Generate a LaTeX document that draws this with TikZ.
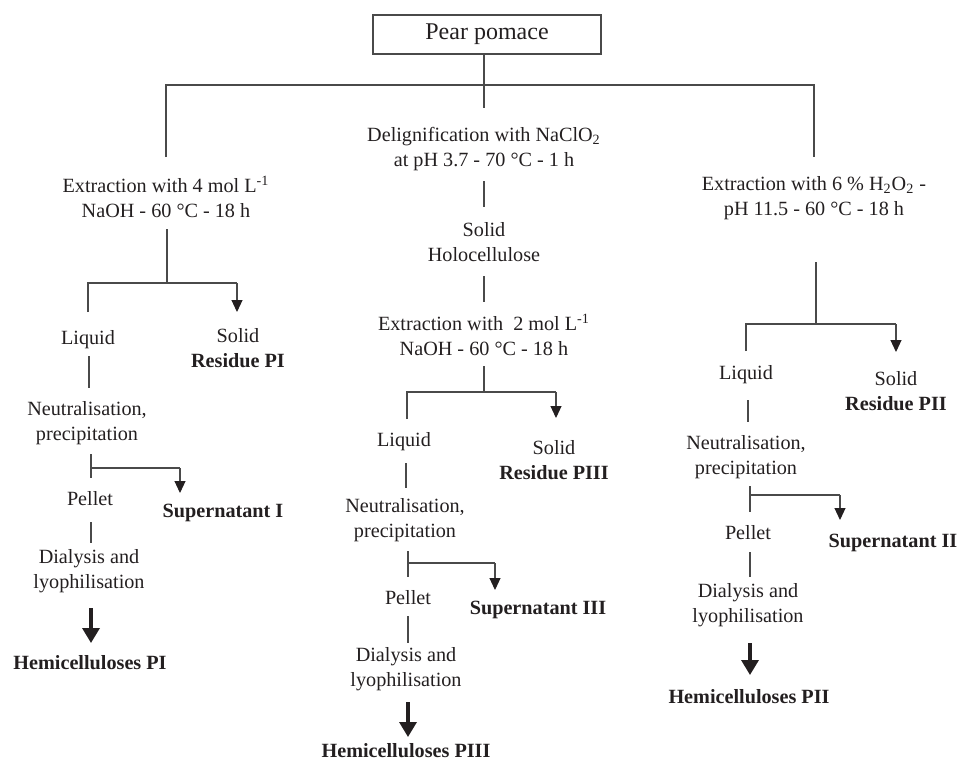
\documentclass[tikz,border=0pt]{standalone}
\usepackage{fontspec}
\setmainfont{Liberation Serif}
\usetikzlibrary{arrows.meta}
\definecolor{ink}{HTML}{231F20}
\definecolor{lin}{HTML}{4A4A4A}
\begin{document}
\begin{tikzpicture}[x=0.5pt,y=-0.5pt,
  every node/.style={inner sep=0pt,outer sep=0pt,text=ink,align=center,
    font=\fontsize{10.1}{12.3}\selectfont},
  ln/.style={draw=lin,line width=0.55pt},
  sarr/.style={ln,-{Triangle[length=6pt,width=5.5pt,color=ink]}},
  tarr/.style={draw=ink,line width=1.7pt,-{Triangle[length=7.5pt,width=8.5pt]}}]
\useasboundingbox (0,0) rectangle (958,761);
% nodes
\node[draw=lin,line width=0.6pt,minimum width=114pt,minimum height=19.5pt,
  font=\fontsize{12}{14}\selectfont] (pear) at (487,34.5) {Pear pomace};
\node (deli) at (484,149) {Delignification with NaClO\textsubscript{2}\\at pH 3.7 - 70 °C - 1 h};
\node (ext4) at (166,197) {Extraction with 4 mol L\textsuperscript{-1}\\NaOH - 60 °C - 18 h};
\node (ext6) at (814,198) {Extraction with 6 \% H\textsubscript{2}O\textsubscript{2} -\\pH 11.5 - 60 °C - 18 h};
\node (holo) at (484,242) {Solid\\Holocellulose};
\node (ext2) at (484,335) {Extraction with~ 2 mol L\textsuperscript{-1}\\NaOH - 60 °C - 18 h};
% left branch
\node (liq1) at (88,340) {Liquid};
\node (sol1) at (238,348) {Solid\\\textbf{Residue PI}};
\node (neut1) at (87,423) {Neutralisation,\\precipitation};
\node (pel1) at (90,499) {Pellet};
\node (sup1) at (223,513) {\textbf{Supernatant I}};
\node (dia1) at (89,571) {Dialysis and\\lyophilisation};
\node (hem1) at (90,663) {\textbf{Hemicelluloses PI}};
% middle branch
\node (liq3) at (404,442) {Liquid};
\node (sol3) at (554,460) {Solid\\\textbf{Residue PIII}};
\node (neut3) at (405,520) {Neutralisation,\\precipitation};
\node (pel3) at (408,598) {Pellet};
\node (sup3) at (538,610) {\textbf{Supernatant III}};
\node (dia3) at (406,669) {Dialysis and\\lyophilisation};
\node (hem3) at (406,751) {\textbf{Hemicelluloses PIII}};
% right branch
\node (liq2) at (746,375) {Liquid};
\node (sol2) at (896,391) {Solid\\\textbf{Residue PII}};
\node (neut2) at (746,457) {Neutralisation,\\precipitation};
\node (pel2) at (748,533) {Pellet};
\node (sup2) at (893,543) {\textbf{Supernatant II}};
\node (dia2) at (748,605) {Dialysis and\\lyophilisation};
\node (hem2) at (749,697) {\textbf{Hemicelluloses PII}};
% coordinates
\coordinate (t0) at (484,108);
\coordinate (tL) at (166,85); \coordinate (tR) at (814,85);
\coordinate (tLb) at (166,157); \coordinate (tRb) at (814,157);
\coordinate (m1a) at (484,181); \coordinate (m1b) at (484,207);
\coordinate (m2a) at (484,276); \coordinate (m2b) at (484,302);
\coordinate (m3a) at (484,366); \coordinate (m3b) at (484,392);
\coordinate (m3L) at (407,392); \coordinate (m3R) at (556,392);
\coordinate (m3Lb) at (407,419); \coordinate (m3Rb) at (556,418);
\coordinate (m4a) at (406,463); \coordinate (m4b) at (406,488);
\coordinate (m5a) at (408,551); \coordinate (m5b) at (408,577);
\coordinate (m5j) at (408,563); \coordinate (m5R) at (495,563); \coordinate (m5Rb) at (495,590);
\coordinate (m6a) at (408,616); \coordinate (m6b) at (408,643);
\coordinate (m7a) at (408,702); \coordinate (m7b) at (408,737);
\coordinate (l1a) at (167,229); \coordinate (l1b) at (167,283);
\coordinate (l1L) at (88,283); \coordinate (l1R) at (237,283);
\coordinate (l1Lb) at (88,312); \coordinate (l1Rb) at (237,312);
\coordinate (l2a) at (89,356); \coordinate (l2b) at (89,388);
\coordinate (l3a) at (91,454); \coordinate (l3b) at (91,478);
\coordinate (l3j) at (91,468); \coordinate (l3R) at (180,468); \coordinate (l3Rb) at (180,493);
\coordinate (l4a) at (91,522); \coordinate (l4b) at (91,543);
\coordinate (l5a) at (91,608); \coordinate (l5b) at (91,643);
\coordinate (r1a) at (816,262); \coordinate (r1b) at (816,324);
\coordinate (r1L) at (746,324); \coordinate (r1R) at (896,324);
\coordinate (r1Lb) at (746,351); \coordinate (r1Rb) at (896,352);
\coordinate (r2a) at (748,400); \coordinate (r2b) at (748,422);
\coordinate (r3a) at (750,486); \coordinate (r3b) at (750,512);
\coordinate (r3j) at (750,495); \coordinate (r3R) at (840,495); \coordinate (r3Rb) at (840,520);
\coordinate (r4a) at (750,552); \coordinate (r4b) at (750,577);
\coordinate (r5a) at (750,643); \coordinate (r5b) at (750,675);
% connectors
\draw[ln] (pear.south -| t0) -- (t0);
\draw[ln] (tLb) -- (tL) -- (tR) -- (tRb);
\draw[ln] (m1a) -- (m1b);
\draw[ln] (m2a) -- (m2b);
\draw[ln] (m3a) -- (m3b);
\draw[ln] (m3Lb) -- (m3L) -- (m3R);
\draw[sarr] (m3R) -- (m3Rb);
\draw[ln] (m4a) -- (m4b);
\draw[ln] (m5a) -- (m5b);
\draw[ln] (m5j) -- (m5R);
\draw[sarr] (m5R) -- (m5Rb);
\draw[ln] (m6a) -- (m6b);
\draw[tarr] (m7a) -- (m7b);
\draw[ln] (l1a) -- (l1b);
\draw[ln] (l1Lb) -- (l1L) -- (l1R);
\draw[sarr] (l1R) -- (l1Rb);
\draw[ln] (l2a) -- (l2b);
\draw[ln] (l3a) -- (l3b);
\draw[ln] (l3j) -- (l3R);
\draw[sarr] (l3R) -- (l3Rb);
\draw[ln] (l4a) -- (l4b);
\draw[tarr] (l5a) -- (l5b);
\draw[ln] (r1a) -- (r1b);
\draw[ln] (r1Lb) -- (r1L) -- (r1R);
\draw[sarr] (r1R) -- (r1Rb);
\draw[ln] (r2a) -- (r2b);
\draw[ln] (r3a) -- (r3b);
\draw[ln] (r3j) -- (r3R);
\draw[sarr] (r3R) -- (r3Rb);
\draw[ln] (r4a) -- (r4b);
\draw[tarr] (r5a) -- (r5b);
\end{tikzpicture}
\end{document}
